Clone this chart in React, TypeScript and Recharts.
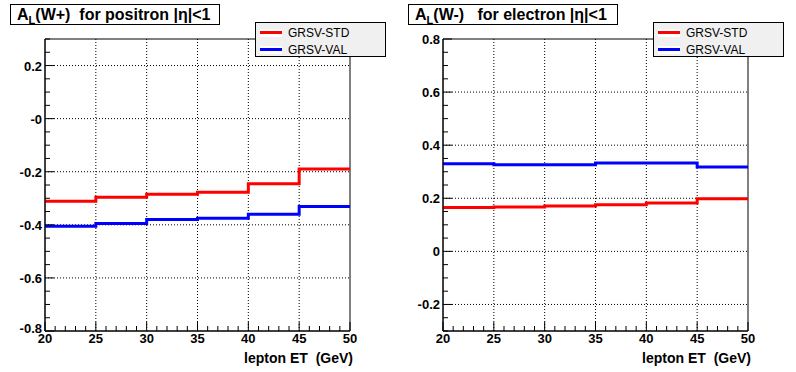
import { CartesianGrid, Line, LineChart, ReferenceArea, XAxis, YAxis } from 'recharts'

const ET_EDGES = [20, 25, 30, 35, 40, 45, 50]
const ET_TICKS = [20, 25, 30, 35, 40, 45, 50]

// A_L(W+) positron, one value per 5 GeV bin
const WPLUS_STD = [-0.311, -0.296, -0.285, -0.277, -0.245, -0.19]
const WPLUS_VAL = [-0.405, -0.395, -0.38, -0.375, -0.36, -0.331]

// A_L(W-) electron
const WMINUS_STD = [0.165, 0.167, 0.171, 0.176, 0.182, 0.198]
const WMINUS_VAL = [0.33, 0.326, 0.326, 0.333, 0.333, 0.318]

const SERIES_NAMES = ['GRSV-STD', 'GRSV-VAL']
const SERIES_COLORS = ['#ff0000', '#0000ff']

const LEFT_Y_MAJOR = [0.2, 0, -0.2, -0.4, -0.6, -0.8]
const LEFT_Y_LABELS = ['0.2', '-0', '-0.2', '-0.4', '-0.6', '-0.8']
const RIGHT_Y_MAJOR = [0.8, 0.6, 0.4, 0.2, 0, -0.2]
const RIGHT_Y_LABELS = ['0.8', '0.6', '0.4', '0.2', '0', '-0.2']

const FONT = '"Liberation Sans", Arial, Helvetica, sans-serif'
const W = 398
const H = 372
const PLOT_TOP = 39
const AXIS_H = 41
const AXIS_W = 45
const PLOT_RIGHT_GAP = 48

type Row = { et: number; std: number; val: number }

function buildRows(std: number[], val: number[]): Row[] {
  // step histogram: repeat last bin value at the upper edge
  return ET_EDGES.map((et, i) => {
    const k = Math.min(i, std.length - 1)
    return { et, std: std[k], val: val[k] }
  })
}

function range(from: number, to: number, step: number): number[] {
  const out: number[] = []
  const n = Math.round((to - from) / step)
  for (let i = 0; i <= n; i += 1) out.push(Math.round((from + i * step) * 100) / 100)
  return out
}

const labelStyle = { fontFamily: FONT, fontWeight: 700, fontSize: 13, fill: '#000' }

function XTick(props: any) {
  const { x, y, payload } = props
  const v = payload.value as number
  const major = ET_TICKS.includes(v)
  return (
    <g>
      <line x1={x} x2={x} y1={y} y2={y - (major ? 9 : 5)} stroke="#000" />
      {major ? (
        <text x={x} y={y + 12} textAnchor="middle" style={labelStyle}>
          {v}
        </text>
      ) : null}
    </g>
  )
}

function makeYTick(majors: number[], labels: string[], bottom: number) {
  return function YTick(props: any) {
    const { x, y, payload } = props
    const v = payload.value as number
    const idx = majors.findIndex((m) => Math.abs(m - v) < 1e-6)
    const major = idx >= 0
    // lowest label sits a little higher, as in the original
    const dy = Math.abs(v - bottom) < 1e-6 ? 2 : 5
    return (
      <g>
        <line x1={x} x2={x + (major ? 9 : 5)} y1={y} y2={y} stroke="#000" />
        {major ? (
          <text x={x - 3} y={y + dy} textAnchor="end" style={labelStyle}>
            {labels[idx]}
          </text>
        ) : null}
      </g>
    )
  }
}

function Title({ left, boson, lepton }: { left: number; boson: string; lepton: string }) {
  return (
    <div
      style={{
        position: 'absolute',
        left,
        top: 4,
        width: 210,
        height: 21,
        border: '1px solid #000',
        background: '#fff',
        fontFamily: FONT,
        fontWeight: 'bold',
        fontSize: 16,
        lineHeight: '19px',
        paddingLeft: 6,
        boxSizing: 'border-box',
        whiteSpace: 'pre',
      }}
    >
      A<sub style={{ fontSize: 11, verticalAlign: -4 }}>L</sub>
      {`(${boson})`}
      {lepton}
    </div>
  )
}

function LegendBox({ left }: { left: number }) {
  return (
    <div
      style={{
        position: 'absolute',
        left,
        top: 22,
        width: 131,
        height: 35,
        border: '1px solid #000',
        background: '#f0f0f0',
        boxSizing: 'border-box',
        fontFamily: FONT,
        fontSize: 12,
      }}
    >
      {SERIES_NAMES.map((name, i) => (
        <div key={name} style={{ position: 'absolute', left: 4, top: 2 + i * 17, height: 15, display: 'flex', alignItems: 'center' }}>
          <span style={{ display: 'inline-block', width: 22, height: 8, background: '#fff', position: 'relative' }}>
            <span style={{ position: 'absolute', left: 0, right: 0, top: 2.5, height: 3, background: SERIES_COLORS[i] }} />
          </span>
          <span style={{ marginLeft: 6 }}>{name}</span>
        </div>
      ))}
    </div>
  )
}

function Panel({
  left,
  rows,
  yDomain,
  majors,
  labels,
  boson,
  lepton,
}: {
  left: number
  rows: Row[]
  yDomain: [number, number]
  majors: number[]
  labels: string[]
  boson: string
  lepton: string
}) {
  const gridY = majors.filter((m) => m > yDomain[0] + 1e-6 && m < yDomain[1] - 1e-6)
  const gridX = ET_TICKS.slice(1, -1)
  return (
    <div style={{ position: 'absolute', left, top: 0, width: W, height: H }}>
      <LineChart width={W} height={H} data={rows} margin={{ top: PLOT_TOP, right: PLOT_RIGHT_GAP, bottom: 0, left: 0 }}>
        <CartesianGrid
          stroke="#000"
          strokeDasharray="1 2"
          horizontalValues={gridY}
          verticalValues={gridX}
        />
        <ReferenceArea x1={20} x2={50} y1={yDomain[0]} y2={yDomain[1]} fill="none" stroke="#000" strokeWidth={1} />
        <XAxis
          dataKey="et"
          type="number"
          domain={[20, 50]}
          ticks={range(20, 50, 1)}
          interval={0}
          height={AXIS_H}
          tickSize={0}
          tickMargin={0}
          tickLine={false}
          stroke="#000"
          tick={<XTick />}
        />
        <YAxis
          type="number"
          domain={yDomain}
          ticks={range(yDomain[0], yDomain[1], 0.05)}
          interval={0}
          width={AXIS_W}
          tickSize={0}
          tickMargin={0}
          tickLine={false}
          stroke="#000"
          tick={makeYTick(majors, labels, yDomain[0])}
          allowDataOverflow
        />
        <Line type="stepAfter" dataKey="std" name={SERIES_NAMES[0]} stroke={SERIES_COLORS[0]} strokeWidth={3} dot={false} isAnimationActive={false} />
        <Line type="stepAfter" dataKey="val" name={SERIES_NAMES[1]} stroke={SERIES_COLORS[1]} strokeWidth={3} dot={false} isAnimationActive={false} />
      </LineChart>
      <Title left={10} boson={boson} lepton={lepton} />
      <LegendBox left={255} />
      <div
        style={{
          position: 'absolute',
          right: PLOT_RIGHT_GAP - 3,
          top: 350,
          fontFamily: FONT,
          fontWeight: 'bold',
          fontSize: 14,
          whiteSpace: 'pre',
        }}
      >
        lepton ET  (GeV)
      </div>
    </div>
  )
}

export default function App() {
  return (
    <div style={{ position: 'absolute', left: 0, top: 0, width: 796, height: 372, background: '#fff', overflow: 'hidden' }}>
      <Panel
        left={0}
        rows={buildRows(WPLUS_STD, WPLUS_VAL)}
        yDomain={[-0.8, 0.3]}
        majors={LEFT_Y_MAJOR}
        labels={LEFT_Y_LABELS}
        boson="W+"
        lepton="  for positron |η|<1"
      />
      <Panel
        left={398}
        rows={buildRows(WMINUS_STD, WMINUS_VAL)}
        yDomain={[-0.3, 0.8]}
        majors={RIGHT_Y_MAJOR}
        labels={RIGHT_Y_LABELS}
        boson="W-"
        lepton="   for electron |η|<1"
      />
    </div>
  )
}
